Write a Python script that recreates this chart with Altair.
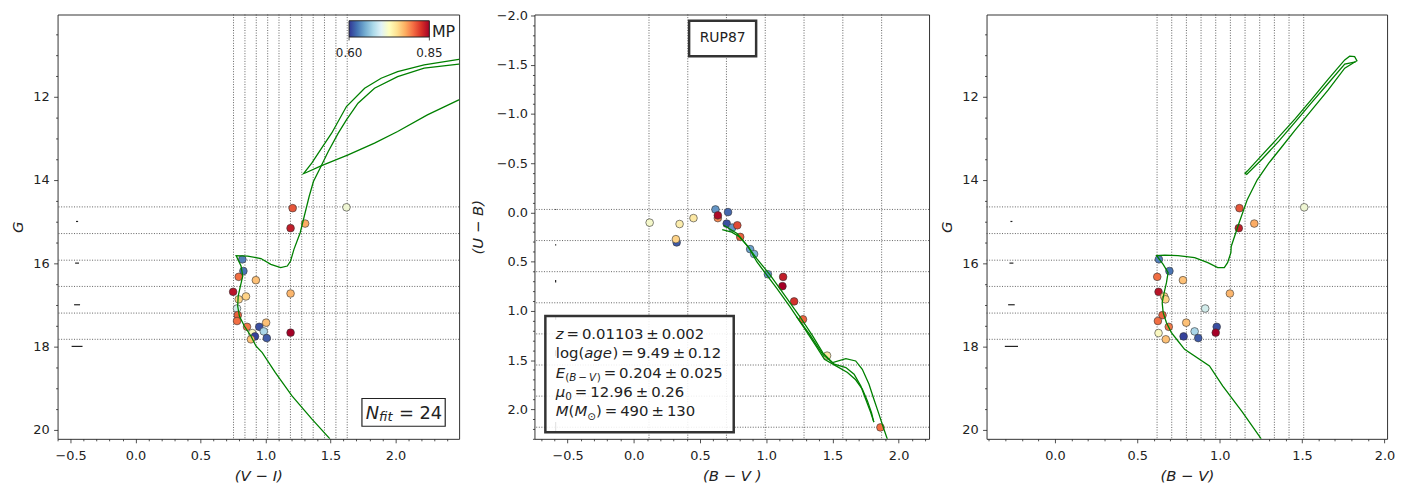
import math
import altair as alt
import pandas as pd

FONT = "DejaVu Sans"
INK = "#222222"
GREEN = "#008000"
GRID = "#3a3a3a"

# ------------------------------------------------------------------ data
# 24 fitted stars: (V-I), (B-V), G and membership probability MP
star_vi = [0.822, 0.830, 0.794, 0.926, 0.751, 1.193, 0.850, 0.794, 0.781, 0.787, 0.781, 0.858,
           1.005, 0.952, 0.987, 1.193, 0.898, 0.919, 0.888, 1.010, 1.209, 1.623, 1.193, 1.305]
star_bv = [0.631, 0.695, 0.621, 0.777, 0.629, 1.062, 0.663, 0.671, 0.912, 0.653, 0.625, 0.691,
           0.797, 0.982, 0.848, 0.976, 0.629, 0.781, 0.673, 0.870, 1.120, 1.513, 1.116, 1.210]
star_g = [15.91, 16.19, 16.33, 16.41, 16.69, 16.73, 16.80, 16.87, 17.09, 17.25, 17.39, 17.53,
          17.43, 17.53, 17.64, 17.67, 17.68, 17.76, 17.83, 17.80, 14.68, 14.66, 15.16, 15.05]
star_mp = [0.630, 0.625, 0.800, 0.765, 0.840, 0.770, 0.755, 0.755, 0.695, 0.805, 0.800, 0.795,
           0.765, 0.610, 0.675, 0.850, 0.725, 0.605, 0.765, 0.615, 0.810, 0.715, 0.835, 0.775]

# stars with U photometry: (B-V), (U-B), MP
ub_bv = [0.120, 0.346, 0.451, 0.324, 0.318, 0.617, 0.712, 0.635, 0.635, 0.702, 0.744, 0.782,
         0.804, 0.879, 0.909, 1.013, 1.128, 1.123, 1.211, 1.278, 1.460, 1.863]
ub_ub = [0.104, 0.118, 0.058, 0.305, 0.272, -0.030, -0.003, 0.058, 0.030, 0.114, 0.154, 0.131,
         0.249, 0.373, 0.423, 0.628, 0.655, 0.749, 0.904, 1.086, 1.455, 2.184]
ub_mp = [0.720, 0.735, 0.740, 0.615, 0.755, 0.640, 0.620, 0.790, 0.845, 0.610, 0.640, 0.815,
         0.805, 0.645, 0.655, 0.640, 0.835, 0.850, 0.825, 0.805, 0.740, 0.800]

# bin edges drawn as dotted guide lines
vi_edges = [0.754, 0.842, 0.929, 1.017, 1.104, 1.192, 1.279, 1.367, 1.454, 1.542, 1.629]
g_edges = [14.65, 15.29, 15.93, 16.56, 17.20, 17.83]
bv_edges = [0.620, 0.709, 0.798, 0.887, 0.976, 1.065, 1.154, 1.243, 1.332, 1.421, 1.510]
bv2_edges = [0.115, 0.408, 0.700, 0.993, 1.286, 1.579, 1.872]
ub_edges = [-0.030, 0.286, 0.602, 0.918, 1.234, 1.550, 1.866, 2.182]

# representative photometric errors
err_g = [15.0, 16.0, 17.0, 18.0]
err_vi_center = -0.45
err_vi_half = [0.008, 0.015, 0.023, 0.042]
err_bv_center = -0.264
err_bv_half = [0.006, 0.012, 0.020, 0.040]
err_ub_center = -0.59
err_ub = [-0.030, 0.330, 0.700, 1.070, 1.430, 2.180]
err_ub_half = [0.004, 0.006, 0.013, 0.020, 0.030, 0.050]

# isochrone, (V-I) vs G
iso1_a_x = [1.496, 1.356, 1.204, 1.076, 0.975, 0.926, 0.888, 0.837, 0.799, 0.786, 0.790, 0.807,
            0.825, 0.812, 0.774, 0.863, 0.965, 1.041, 1.117, 1.168, 1.193, 1.219, 1.267, 1.305,
            1.336, 1.369, 1.420, 1.483, 1.560, 1.623, 1.712, 1.839, 2.017, 2.221, 2.488, 2.600]
iso1_a_g = [20.22, 19.74, 19.19, 18.63, 18.15, 17.99, 17.75, 17.51, 17.27, 17.03, 16.79, 16.55,
            16.31, 16.07, 15.82, 15.83, 15.89, 16.03, 16.11, 16.07, 15.95, 15.67, 15.27, 14.79,
            14.40, 14.04, 13.72, 13.32, 12.88, 12.56, 12.16, 11.80, 11.52, 11.32, 11.22, 11.19]
iso1_b_x = [2.600, 2.488, 2.221, 2.017, 1.890, 1.763, 1.623, 1.509, 1.432, 1.356, 1.293, 1.310,
            1.432, 1.636, 1.839, 2.017, 2.246, 2.488, 2.600]
iso1_b_g = [11.07, 11.105, 11.24, 11.40, 11.56, 11.80, 12.24, 12.88, 13.24, 13.60, 13.85, 13.83,
            13.66, 13.40, 13.12, 12.84, 12.44, 12.08, 11.90]

# isochrone, (B-V) vs G
iso3_a_x = [1.252, 1.138, 1.018, 0.938, 0.787, 0.747, 0.707, 0.677, 0.657, 0.651, 0.663, 0.677,
            0.687, 0.657, 0.617, 0.667, 0.747, 0.848, 0.928, 0.988, 1.028, 1.048, 1.068, 1.070,
            1.118, 1.168, 1.228, 1.298, 1.379, 1.459, 1.559, 1.659, 1.759, 1.825]
iso3_a_g = [20.22, 19.58, 18.95, 18.47, 18.07, 17.87, 17.67, 17.43, 17.19, 16.95, 16.71, 16.47,
            16.23, 16.03, 15.82, 15.81, 15.82, 15.87, 15.99, 16.11, 16.11, 15.99, 15.75, 15.60,
            15.03, 14.47, 14.00, 13.60, 13.20, 12.80, 12.32, 11.84, 11.32, 11.16]
iso3_b_x = [1.825, 1.833, 1.819, 1.789, 1.759, 1.659, 1.559, 1.459, 1.359, 1.258, 1.168, 1.154,
            1.164, 1.258, 1.359, 1.459, 1.559, 1.659, 1.759, 1.825]
iso3_b_g = [11.16, 11.14, 11.04, 11.03, 11.12, 11.58, 12.06, 12.53, 12.97, 13.40, 13.79, 13.84,
            13.87, 13.50, 13.07, 12.61, 12.14, 11.68, 11.22, 11.17]

# isochrone, (B-V) vs (U-B)
iso2_a_x = [0.680, 0.780, 0.854, 0.929, 1.029, 1.128, 1.253, 1.352, 1.427, 1.502, 1.602, 1.676,
            1.726, 1.776, 1.813, 1.851, 1.888, 1.921]
iso2_a_y = [0.131, 0.215, 0.333, 0.470, 0.635, 0.820, 1.055, 1.257, 1.425, 1.526, 1.485, 1.509,
            1.593, 1.744, 1.895, 2.046, 2.198, 2.325]
iso2_b_x = [0.668, 0.740, 0.800, 0.870, 0.929, 1.079, 1.178, 1.278, 1.377, 1.440, 1.527, 1.614,
            1.676, 1.726, 1.764, 1.796, 1.813]
iso2_b_y = [0.175, 0.200, 0.250, 0.360, 0.501, 0.769, 0.954, 1.156, 1.358, 1.492, 1.559, 1.626,
            1.700, 1.794, 1.912, 2.036, 2.130]
iso2_c_x = [1.228, 1.328, 1.427, 1.514, 1.602, 1.664, 1.714, 1.751, 1.789, 1.813]
iso2_c_y = [1.055, 1.240, 1.442, 1.542, 1.576, 1.643, 1.761, 1.895, 2.030, 2.130]

cluster_name = "RUP87"
n_fit = "24"
fit_values = ["0.01103", "0.002", "9.49", "0.12", "0.204", "0.025", "12.96", "0.26", "490", "130"]
mp_range = [0.60, 0.85]
mp_labels = ["0.60", "0.85"]
# RdYlBu reversed (the same colours as Vega's "redyellowblue" scheme, reversed)
rdylbu_r = ["#313695", "#4575b4", "#74add1", "#abd9e9", "#e0f3f8", "#ffffbf",
            "#fee090", "#fdae61", "#f46d43", "#d73027", "#a50026"]

# ------------------------------------------------------------------ helpers
TS = "\u2009"
CW = {" ": 0.318, TS: 0.2, ".": 0.318, "=": 0.838, "\u00b1": 0.838, "(": 0.390, ")": 0.390,
      "l": 0.278, "o": 0.612, "g": 0.635, "a": 0.613, "e": 0.615, "z": 0.521, "E": 0.632,
      "B": 0.686, "V": 0.684, "\u2212": 0.838, "\u03bc": 0.636, "M": 0.863, "\u2299": 0.838,
      "N": 0.748, "f": 0.352, "i": 0.278, "t": 0.392}
for d in "0123456789":
    CW[d] = 0.636


def tick_values(lo, hi, step):
    k0 = math.ceil(lo / step - 1e-9)
    k1 = math.floor(hi / step + 1e-9)
    return [round(k * step, 6) for k in range(k0, k1 + 1)]


def make_axis(lo, hi, minor, major, fmt, title, title_pad, label_pad):
    test = f"abs(datum.value / {major} - round(datum.value / {major})) < 1e-6"
    return alt.Axis(
        values=tick_values(lo, hi, minor),
        labelExpr=f"({test}) ? format(datum.value, '{fmt}') : ''",
        tickSize={"condition": {"test": test, "value": 4}, "value": 2},
        tickWidth=0.8, tickColor=INK, grid=False, domain=False,
        labelFont=FONT, labelFontSize=13, labelColor=INK, labelPadding=label_pad,
        labelFlush=False, labelOverlap=False,
        title=title, titleFont=FONT, titleFontSize=15, titleFontStyle="italic",
        titleFontWeight="normal", titleColor=INK, titlePadding=title_pad)


def encoders(xdom, ydom, xaxis, yaxis):
    xs = alt.Scale(domain=xdom, nice=False, zero=False)
    ys = alt.Scale(domain=ydom, nice=False, zero=False, reverse=True)
    X = lambda f: alt.X(f, type="quantitative", scale=xs, axis=xaxis)
    Y = lambda f: alt.Y(f, type="quantitative", scale=ys, axis=yaxis)
    return X, Y


def vgrid(vals, X):
    return alt.Chart(pd.DataFrame({"v": vals})).mark_rule(
        color=GRID, strokeWidth=0.8, strokeDash=[1, 1.6]).encode(x=X("v"))


def hgrid(vals, Y):
    return alt.Chart(pd.DataFrame({"h": vals})).mark_rule(
        color=GRID, strokeWidth=0.8, strokeDash=[1, 1.6]).encode(y=Y("h"))


def iso_layer(segs, X, Y):
    rows = []
    for s, (xs, ys) in enumerate(segs):
        for i, (a, b) in enumerate(zip(xs, ys)):
            rows.append({"x": a, "y": b, "seg": s, "i": i})
    return alt.Chart(pd.DataFrame(rows)).mark_line(
        color=GREEN, strokeWidth=1.3, clip=True).encode(
        x=X("x"), y=Y("y"), detail="seg:N", order="i:Q")


def stars(xv, yv, mpv, X, Y):
    df = pd.DataFrame({"x": xv, "y": yv, "mp": mpv})
    cs = alt.Scale(scheme="redyellowblue", reverse=True, domain=mp_range, clamp=True)
    return alt.Chart(df).mark_circle(size=60, stroke="#333333", strokeWidth=0.6, opacity=1).encode(
        x=X("x"), y=Y("y"), color=alt.Color("mp:Q", scale=cs, legend=None))


def box(x0, x1, y0, y1, sw, stroke, fop=1.0, fill="white"):
    return alt.Chart(pd.DataFrame({"b": [0]})).mark_rect(
        fill=fill, fillOpacity=fop, stroke=stroke, strokeWidth=sw).encode(
        x=alt.value(x0), x2=alt.value(x1), y=alt.value(y0), y2=alt.value(y1))


def vtick(px, y0, y1):
    return alt.Chart(pd.DataFrame({"b": [0]})).mark_rule(color=INK, strokeWidth=0.8).encode(
        x=alt.value(px), y=alt.value(y0), y2=alt.value(y1))


def text(t, px, py, size, italic=False, align="left", baseline="alphabetic"):
    return alt.Chart(pd.DataFrame({"t": [t]})).mark_text(
        align=align, baseline=baseline, font=FONT, fontSize=size,
        fontStyle="italic" if italic else "normal", color=INK).encode(
        x=alt.value(px), y=alt.value(py), text="t:N")


def runs_layers(x0, y0, runs):
    """runs: (text, italic, size, baseline shift, gap before)"""
    out = []
    x = x0
    for t, it, size, dy, gap in runs:
        x += gap
        out.append(text(t, x, y0 + dy, size, italic=it))
        x += sum(CW.get(c, 0.62) for c in t) * size
    return out


def eq(a, b):
    return ("=" + TS + a + TS + "\u00b1" + TS + b, False, 15, 0, 3.0)


# ------------------------------------------------------------------ panel 1
P1_X, P1_Y = [-0.6, 2.49], [10.03, 20.22]
X1, Y1 = encoders(P1_X, P1_Y,
                  make_axis(P1_X[0], P1_X[1], 0.1, 0.5, ".1f", "(V \u2212 I)", 6, 7),
                  make_axis(P1_Y[0], P1_Y[1], 0.5, 2, ".0f", "G", 7, 4.5))
err1 = pd.DataFrame({"g": err_g,
                     "lo": [err_vi_center - h for h in err_vi_half],
                     "hi": [err_vi_center + h for h in err_vi_half]})
cbar_fill = {"gradient": "linear", "x1": 0, "y1": 0, "x2": 1, "y2": 0,
             "stops": [{"offset": i / (len(rdylbu_r) - 1), "color": c} for i, c in enumerate(rdylbu_r)]}
p1 = alt.layer(
    vgrid(vi_edges, X1), hgrid(g_edges, Y1),
    alt.Chart(err1).mark_rule(color=INK, strokeWidth=1.2).encode(x=X1("lo"), x2="hi", y=Y1("g")),
    stars(star_vi, star_g, star_mp, X1, Y1),
    iso_layer([(iso1_a_x, iso1_a_g), (iso1_b_x, iso1_b_g)], X1, Y1),
    # colour bar for MP
    box(294, 375, 6.3, 22.7, 1, INK, 1.0, cbar_fill),
    vtick(294, 22.7, 26.2), vtick(375, 22.7, 26.2),
    text(mp_labels[0], 294, 43, 12, align="center"),
    text(mp_labels[1], 375, 43, 12, align="center"),
    text("MP", 377.6, 23, 16),
    # N_fit box
    box(307, 391, 387.3, 415.3, 1.2, INK),
    text("N", 310.8, 408, 18, italic=True),
    text("fit", 324.3, 410, 13, italic=True),
    text("= " + n_fit, 344.3, 408, 18),
).properties(width=405, height=428)

# ------------------------------------------------------------------ panel 2
P2_X, P2_Y = [-0.75, 2.23], [-2.01, 2.30]
X2, Y2 = encoders(P2_X, P2_Y,
                  make_axis(P2_X[0], P2_X[1], 0.1, 0.5, ".1f", "(B \u2212 V )", 6, 7),
                  make_axis(P2_Y[0], P2_Y[1], 0.1, 0.5, ".1f", "(U \u2212 B)", 11, 3))
err2 = pd.DataFrame({"x": [err_ub_center] * len(err_ub),
                     "lo": [u - h for u, h in zip(err_ub, err_ub_half)],
                     "hi": [u + h for u, h in zip(err_ub, err_ub_half)]})
sub = 10.5
fv = fit_values
param_lines = [
    [("z", True, 15, 0, 0), eq(fv[0], fv[1])],
    [("log(", False, 15, 0, 0), ("age", True, 15, 0, 0), (")", False, 15, 0, 0.5), eq(fv[2], fv[3])],
    [("E", True, 15, 0, 0), ("(", False, sub, 3.5, 0), ("B", True, sub, 3.5, 0),
     ("\u2212", False, sub, 3.5, 2.0), ("V", True, sub, 3.5, 2.0), (")", False, sub, 3.5, 0.5),
     eq(fv[4], fv[5])],
    [("\u03bc", True, 15, 0, 0), ("0", False, sub, 3.5, 0), eq(fv[6], fv[7])],
    [("M", True, 15, 0, 0), ("(", False, 15, 0, 0), ("M", True, 15, 0, 0), ("\u2299", False, sub, 3.5, 0),
     (")", False, 15, 0, 0), eq(fv[8], fv[9])],
]
baselines = [327.3, 346.8, 366.3, 385.8, 405.3]
param_layers = []
for runs, b in zip(param_lines, baselines):
    param_layers += runs_layers(21.5, b, runs)

p2 = alt.layer(
    vgrid(bv2_edges, X2), hgrid(ub_edges, Y2),
    alt.Chart(err2).mark_rule(color=INK, strokeWidth=1.2).encode(x=X2("x"), y=Y2("lo"), y2="hi"),
    stars(ub_bv, ub_ub, ub_mp, X2, Y2),
    iso_layer([(iso2_a_x, iso2_a_y), (iso2_b_x, iso2_b_y), (iso2_c_x, iso2_c_y)], X2, Y2),
    box(156, 223.6, 6.3, 42, 2.5, "#333333"),
    text(cluster_name, 189.8, 23.5, 14, align="center", baseline="middle"),
    box(11, 201, 304, 421.3, 2.5, "#333333", 0.88),
    *param_layers,
).properties(width=398, height=428)

# ------------------------------------------------------------------ panel 3
P3_X, P3_Y = [-0.415, 2.016], [10.03, 20.22]
X3, Y3 = encoders(P3_X, P3_Y,
                  make_axis(P3_X[0], P3_X[1], 0.1, 0.5, ".1f", "(B \u2212 V)", 6, 7),
                  make_axis(P3_Y[0], P3_Y[1], 0.5, 2, ".0f", "G", 7, 4.5))
err3 = pd.DataFrame({"g": err_g,
                     "lo": [err_bv_center - h for h in err_bv_half],
                     "hi": [err_bv_center + h for h in err_bv_half]})
p3 = alt.layer(
    vgrid(bv_edges, X3), hgrid(g_edges, Y3),
    alt.Chart(err3).mark_rule(color=INK, strokeWidth=1.2).encode(x=X3("lo"), x2="hi", y=Y3("g")),
    stars(star_bv, star_g, star_mp, X3, Y3),
    iso_layer([(iso3_a_x, iso3_a_g), (iso3_b_x, iso3_b_g)], X3, Y3),
).properties(width=404, height=428)

chart = alt.hconcat(p1, p2, p3, spacing=9).resolve_scale(color="independent").properties(
    padding={"top": -1.5, "left": 2, "right": 0, "bottom": 0}, background="white"
).configure_view(stroke="#333333", strokeWidth=1)

chart.save("out.html", embed_options={"renderer": "svg", "actions": False})
